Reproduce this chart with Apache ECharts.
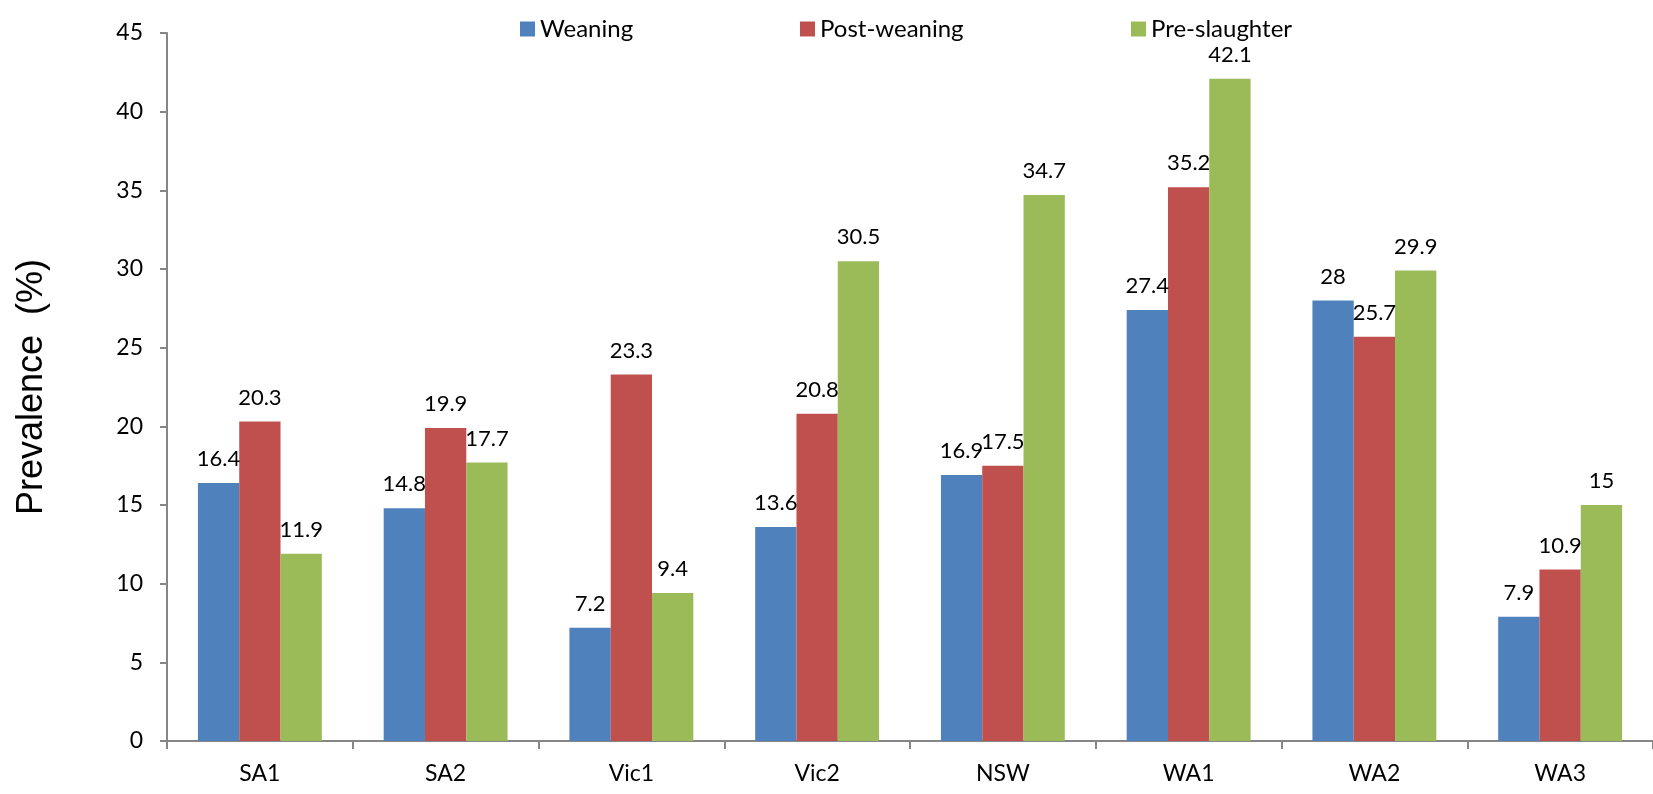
<!DOCTYPE html>
<html>
<head>
<meta charset="utf-8">
<script src="https://cdn.jsdelivr.net/npm/echarts@6/dist/echarts.min.js"></script>
<style>
  html, body { margin: 0; padding: 0; background: #ffffff; }
  #chart { width: 1653px; height: 794px; }
</style>
</head>
<body>
<div id="chart"></div>
<script>
// Prevalence (%) by farm / region at three sampling stages
const categories = ['SA1', 'SA2', 'Vic1', 'Vic2', 'NSW', 'WA1', 'WA2', 'WA3'];
const weaning      = [16.4, 14.8, 7.2, 13.6, 16.9, 27.4, 28, 7.9];
const postWeaning  = [20.3, 19.9, 23.3, 20.8, 17.5, 35.2, 25.7, 10.9];
const preSlaughter = [11.9, 17.7, 9.4, 30.5, 34.7, 42.1, 29.9, 15];
const seriesNames  = ['Weaning', 'Post-weaning', 'Pre-slaughter'];
const colors       = ['#4F81BD', '#C0504D', '#9BBB59'];

const FONT = 'Lato, "Open Sans", sans-serif';
const AXIS_GREY = '#868686';

const chart = echarts.init(document.getElementById('chart'), null, { renderer: 'canvas' });

function barSeries(name, data, color) {
  return {
    name: name,
    type: 'bar',
    data: data,
    barGap: '0%',
    barCategoryGap: '33.3%',
    itemStyle: { color: color },
    label: {
      show: true,
      position: 'top',
      distance: 13,
      fontFamily: FONT,
      fontSize: 22,
      color: '#000000'
    }
  };
}

// one legend block per series so each entry keeps its own position
const legendLefts = [515, 795, 1126];
const legends = seriesNames.map((n, i) => ({
  data: [n],
  left: legendLefts[i],
  top: 12,
  itemWidth: 15,
  itemHeight: 15,
  itemGap: 6,
  icon: 'rect',
  textStyle: { fontFamily: FONT, fontSize: 24, color: '#000000' },
  selectedMode: false
}));

chart.setOption({
  backgroundColor: '#ffffff',
  animation: false,
  legend: legends,
  grid: { left: 167, top: 33, bottom: 53, width: 1490 },
  xAxis: {
    type: 'category',
    data: categories,
    axisLine: { lineStyle: { color: AXIS_GREY, width: 2 } },
    axisTick: { show: true, length: 8, alignWithLabel: false, lineStyle: { color: AXIS_GREY, width: 2 } },
    axisLabel: { fontFamily: FONT, fontSize: 23, color: '#000000', margin: 21 },
    splitLine: { show: false }
  },
  yAxis: {
    type: 'value',
    min: 0,
    max: 45,
    interval: 5,
    name: 'Prevalence  (%)',
    nameLocation: 'middle',
    nameRotate: 90,
    nameGap: 117,
    nameTextStyle: { fontFamily: '"Liberation Sans", Arial, sans-serif', fontSize: 36, color: '#000000' },
    axisLine: { show: true, lineStyle: { color: AXIS_GREY, width: 2 } },
    axisTick: { show: true, length: 7, lineStyle: { color: AXIS_GREY, width: 2 } },
    axisLabel: { fontFamily: FONT, fontSize: 23, color: '#000000', margin: 24 },
    splitLine: { show: false }
  },
  series: [
    barSeries(seriesNames[0], weaning, colors[0]),
    barSeries(seriesNames[1], postWeaning, colors[1]),
    barSeries(seriesNames[2], preSlaughter, colors[2])
  ]
});
</script>
</body>
</html>
